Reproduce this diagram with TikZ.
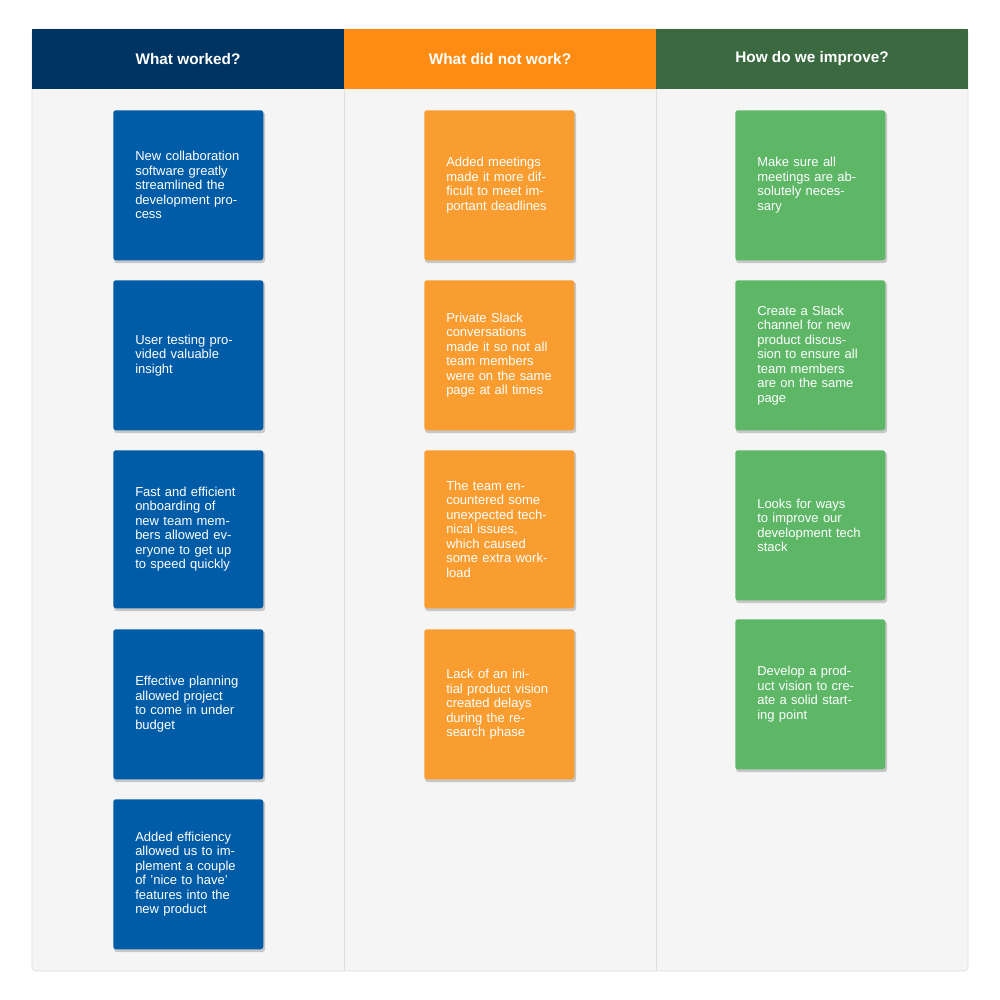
\documentclass[tikz,border=0pt]{standalone}
\usepackage{fontspec}
\setmainfont{Liberation Sans}
\usetikzlibrary{positioning}
\definecolor{navyhead}{HTML}{003462}
\definecolor{orangehead}{HTML}{FF8C12}
\definecolor{greenhead}{HTML}{3B6940}
\definecolor{bluecard}{HTML}{005CA6}
\definecolor{orangecard}{HTML}{F99D31}
\definecolor{greencard}{HTML}{5DB767}
\definecolor{boardbg}{HTML}{F5F5F5}
\definecolor{boardline}{HTML}{DDDDDD}

\begin{document}
\begin{tikzpicture}[x=0.75pt,y=0.75pt,yscale=-1,xscale=1,
  card/.style={anchor=north west,inner xsep=16.5pt,inner ysep=15pt,text width=79.5pt,
    minimum height=112.5pt,align=left,rounded corners=2pt,text=white,
    font=\fontsize{9.75}{10.9}\selectfont,
    drop/.style={}},
  shade/.style={fill=black!22,rounded corners=2pt},
  headtext/.style={text=white,font=\bfseries\fontsize{11.5}{13}\selectfont}]
\useasboundingbox (0,0) rectangle (1000,1000);

%Board
\draw [boardline,fill=boardbg,rounded corners=3pt] (32,29) rectangle (968,971);
\draw [boardline] (344,89) -- (344,971) (656,89) -- (656,971);
%Headers
\fill [navyhead] (32,29) rectangle (344,89);
\fill [orangehead] (344,29) rectangle (656,89);
\fill [greenhead] (656,29) rectangle (968,89);
\node [headtext] (hworked) at (188,59) {What worked?};
\node [headtext] (hnot) at (500,59) {What did not work?};
\node [headtext] (himprove) at (812,59) {How do we improve?};

%Shadows
\foreach \x/\y/\h in {113/110/150,113/280/150,113/450/158,113/629/150,113/799/150,
  424/110/150,424/280/150,424/450/158,424/629/150,
  735/110/150,735/280/150,735/450/150,735/619/150}
  \fill [shade] (\x+1,\y+2) rectangle (\x+152,\y+\h+3);

%What worked
\node [card,fill=bluecard] (w1) at (113,110) {New collaboration software greatly streamlined the development process};
\node [card,fill=bluecard] (w2) at (113,280) {User testing provided valuable insight};
\node [card,fill=bluecard,minimum height=118.5pt] (w3) at (113,450) {Fast and efficient onboarding of new team members allowed everyone to get up to speed quickly};
\node [card,fill=bluecard] (w4) at (113,629) {Effective planning allowed project to come in under budget};
\node [card,fill=bluecard] (w5) at (113,799) {Added efficiency allowed us to implement a couple of 'nice to have' features into the new product};

%What did not work
\node [card,fill=orangecard] (n1) at (424,110) {Added meetings made it more difficult to meet important deadlines};
\node [card,fill=orangecard] (n2) at (424,280) {Private Slack conversations made it so not all team members were on the same page at all times};
\node [card,fill=orangecard,minimum height=118.5pt] (n3) at (424,450) {The team encountered some unexpected technical issues, which caused some extra workload};
\node [card,fill=orangecard] (n4) at (424,629) {Lack of an initial product vision created delays during the research phase};

%How do we improve
\node [card,fill=greencard] (i1) at (735,110) {Make sure all meetings are absolutely necessary};
\node [card,fill=greencard] (i2) at (735,280) {Create a Slack channel for new product discussion to ensure all team members are on the same page};
\node [card,fill=greencard] (i3) at (735,450) {Looks for ways to improve our development tech stack};
\node [card,fill=greencard] (i4) at (735,619) {Develop a product vision to create a solid starting point};

\end{tikzpicture}
\end{document}
